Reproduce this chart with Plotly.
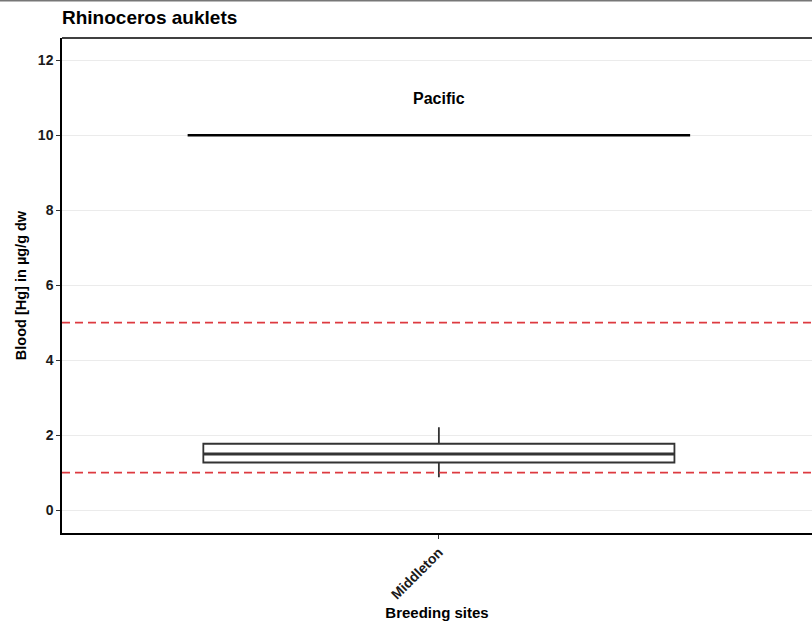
import plotly.graph_objects as go

# ---- data ----
sites = ["Middleton"]
site_pos = [1]
q1 = [1.27]
median = [1.50]
q3 = [1.77]
lower_whisker = [0.88]
upper_whisker = [2.21]

threshold_values = [1.0, 5.0]

group_label = "Pacific"
group_x = [0.6, 1.4]
group_y = 10.0
group_label_y = 10.97

y_ticks = [0, 2, 4, 6, 8, 10, 12]

title_text = "Rhinoceros auklets"
x_title = "Breeding sites"
y_title = "Blood [Hg] in µg/g dw"

FONT = "Liberation Sans, Arial, sans-serif"

fig = go.Figure()

fig.add_trace(go.Box(
    x=site_pos, q1=q1, median=median, q3=q3,
    lowerfence=lower_whisker, upperfence=upper_whisker,
    width=0.75, fillcolor="rgba(255,255,255,0)",
    line=dict(color="#333333", width=1.8),
    whiskerwidth=0, boxpoints=False, showlegend=False, hoverinfo="skip",
))

# thicker median line like ggplot
fig.add_trace(go.Scatter(
    x=[site_pos[0] - 0.375, site_pos[0] + 0.375], y=[median[0], median[0]],
    mode="lines", line=dict(color="#333333", width=3), showlegend=False, hoverinfo="skip",
))

# group segment
fig.add_trace(go.Scatter(
    x=group_x, y=[group_y, group_y], mode="lines",
    line=dict(color="black", width=2.5), showlegend=False, hoverinfo="skip",
))

for v in threshold_values:
    fig.add_hline(y=v, line=dict(color="#dd3a40", width=1.6, dash="8px,5px"), layer="above")

fig.add_annotation(
    x=sum(group_x) / 2, y=group_label_y, text="<b>" + group_label + "</b>",
    showarrow=False, font=dict(family=FONT, size=16, color="black"),
    xanchor="center", yanchor="middle",
)

# top panel border
fig.add_shape(type="line", xref="paper", yref="paper", x0=0, x1=1, y0=1, y1=1,
              line=dict(color="black", width=1.5))
# image top gray frame
fig.add_shape(type="line", xref="paper", yref="paper", x0=-0.1, x1=1.1,
              y0=1.0758, y1=1.0758, line=dict(color="#777777", width=2))

fig.update_layout(
    width=812, height=625,
    margin=dict(l=62, r=0, t=38, b=92),
    paper_bgcolor="white", plot_bgcolor="white",
    title=dict(text="<b>" + title_text + "</b>", x=62 / 812, xanchor="left",
               y=1 - 17 / 625, yanchor="middle",
               font=dict(family=FONT, size=19, color="black")),
    font=dict(family=FONT, color="black"),
)

fig.update_xaxes(
    range=[0.4, 1.594], tickmode="array", tickvals=site_pos,
    ticktext=["<b>" + s + "</b>" for s in sites], tickangle=-45,
    tickfont=dict(family=FONT, size=14, color="#1a1a1a"),
    showgrid=False, zeroline=False, showline=True, linecolor="black", linewidth=1.5,
    ticks="outside", ticklen=4, tickcolor="#333333", tickwidth=1,
    title=dict(text="<b>" + x_title + "</b>", font=dict(family=FONT, size=15, color="black"), standoff=6),
    automargin=False,
)
fig.update_yaxes(
    range=[-0.61, 12.59], tickmode="array", tickvals=y_ticks,
    ticktext=["<b>%d</b>" % t for t in y_ticks],
    tickfont=dict(family=FONT, size=14, color="#1a1a1a"),
    showgrid=True, gridcolor="#ebebeb", gridwidth=1, zeroline=False,
    showline=True, linecolor="black", linewidth=1.5,
    ticks="outside", ticklen=4, tickcolor="#333333", tickwidth=1,
    title=dict(text="<b>" + y_title + "</b>", font=dict(family=FONT, size=14.5, color="black"), standoff=8),
    automargin=False,
)

fig.write_html("out.html", config={"displayModeBar": False},
               post_script="document.body.style.margin='0px';")
